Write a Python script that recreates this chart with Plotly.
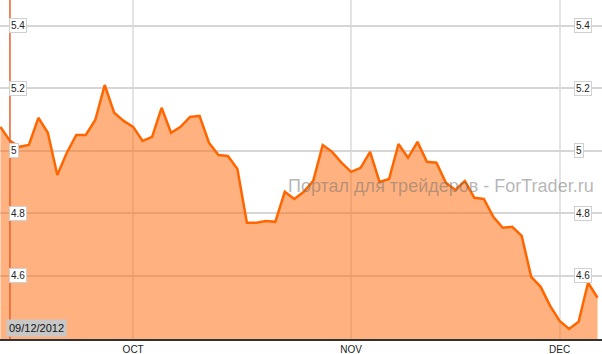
import plotly.graph_objects as go

dates = [
    "2012-09-11", "2012-09-12", "2012-09-13", "2012-09-14", "2012-09-17", "2012-09-18",
    "2012-09-19", "2012-09-20", "2012-09-21", "2012-09-24", "2012-09-25", "2012-09-26",
    "2012-09-27", "2012-09-28",
    "2012-10-01", "2012-10-02", "2012-10-03", "2012-10-04", "2012-10-05", "2012-10-08",
    "2012-10-09", "2012-10-10", "2012-10-11", "2012-10-12", "2012-10-15", "2012-10-16",
    "2012-10-17", "2012-10-18", "2012-10-19", "2012-10-22", "2012-10-23", "2012-10-24",
    "2012-10-25", "2012-10-26", "2012-10-29", "2012-10-30", "2012-10-31",
    "2012-11-01", "2012-11-02", "2012-11-05", "2012-11-06", "2012-11-07", "2012-11-08",
    "2012-11-09", "2012-11-12", "2012-11-13", "2012-11-14", "2012-11-15", "2012-11-16",
    "2012-11-19", "2012-11-20", "2012-11-21", "2012-11-22", "2012-11-23", "2012-11-26",
    "2012-11-27", "2012-11-28", "2012-11-29", "2012-11-30",
    "2012-12-03", "2012-12-04", "2012-12-05", "2012-12-06", "2012-12-07",
]

values = [
    5.077, 5.032, 5.013, 5.019, 5.106, 5.058, 4.923, 4.994, 5.051, 5.051,
    5.099, 5.211, 5.122, 5.096, 5.077, 5.032, 5.045, 5.138, 5.058, 5.077,
    5.109, 5.112, 5.026, 4.987, 4.984, 4.942, 4.770, 4.770, 4.776, 4.773,
    4.869, 4.846, 4.869, 4.904, 5.019, 4.997, 4.962, 4.933, 4.946, 4.997,
    4.901, 4.910, 5.022, 4.978, 5.029, 4.965, 4.962, 4.898, 4.875, 4.904,
    4.850, 4.846, 4.789, 4.754, 4.757, 4.728, 4.597, 4.565, 4.504, 4.456,
    4.430, 4.453, 4.578, 4.530,
]

month_ticks = ["2012-10-01", "2012-11-01", "2012-12-03"]
month_labels = ["OCT", "NOV", "DEC"]

y_ticks = [4.6, 4.8, 5.0, 5.2, 5.4]
y_labels = ["4.6", "4.8", "5", "5.2", "5.4"]

marker_date = "2012-09-12"
marker_label = "09/12/2012"
watermark = "Портал для трейдеров - ForTrader.ru"

FONT = "Liberation Sans, Arial, sans-serif"

fig = go.Figure()
fig.add_trace(go.Scatter(
    x=dates, y=values, mode="lines",
    line=dict(color="#ff6600", width=2.5),
    fill="tozeroy", fillcolor="rgba(255,102,0,0.5)",
    hoverinfo="skip",
))

fig.add_shape(type="line", xref="x", yref="paper",
              x0=marker_date, x1=marker_date, y0=0, y1=1,
              line=dict(color="#e8602a", width=1.5))

annotations = []
for v, t in zip(y_ticks, y_labels):
    for xp in (9 / 602, 574 / 602):
        annotations.append(dict(
            x=xp, xref="paper", y=v, yref="y", text=t, showarrow=False,
            xanchor="left", yanchor="middle",
            font=dict(family=FONT, size=10, color="#222"),
            bgcolor="white", bordercolor="#d0d0d0", borderwidth=1, borderpad=1,
        ))
annotations.append(dict(
    x=6 / 602, xref="paper", y=2 / 339, yref="paper", text=marker_label,
    showarrow=False, xanchor="left", yanchor="bottom",
    font=dict(family=FONT, size=11, color="#111"),
    bgcolor="#c8c8c8", borderpad=2,
))
annotations.append(dict(
    x=286 / 602, xref="paper", y=4.888, yref="y", text=watermark,
    showarrow=False, xanchor="left", yanchor="middle",
    font=dict(family=FONT, size=18, color="rgba(110,110,110,0.5)"),
))

fig.update_layout(
    width=602, height=354,
    margin=dict(l=0, r=0, t=0, b=15),
    paper_bgcolor="white", plot_bgcolor="white",
    showlegend=False,
    annotations=annotations,
    xaxis=dict(
        type="category", range=[-0.05, 63.47],
        tickvals=month_ticks, ticktext=month_labels,
        showgrid=True, gridcolor="#e4e4e4", gridwidth=2,
        showline=True, linecolor="#333", linewidth=2,
        ticks="", ticklen=0,
        tickfont=dict(family=FONT, size=10, color="#222"),
        zeroline=False, fixedrange=True,
    ),
    yaxis=dict(
        range=[4.398, 5.483], tickvals=y_ticks,
        showticklabels=False, showgrid=True, gridcolor="#d6d6d6", gridwidth=1.5,
        zeroline=False, showline=False, fixedrange=True,
    ),
)

fig.write_html("out.html")
